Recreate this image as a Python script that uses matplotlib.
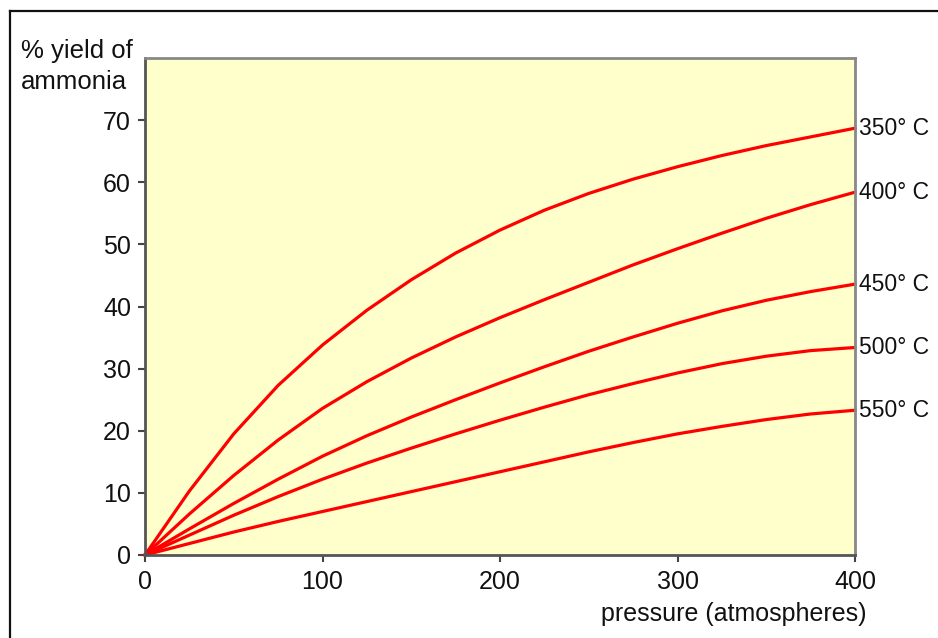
import matplotlib
matplotlib.use("Agg")
import matplotlib.pyplot as plt
from matplotlib.lines import Line2D

plt.rcParams['font.family'] = ['Liberation Sans', 'DejaVu Sans']

# pressure in atmospheres
pressure = [0, 25, 50, 75, 100, 125, 150, 175, 200, 225, 250, 275, 300, 325, 350, 375, 400]

# % yield of ammonia
yield_350 = [0, 10.3, 19.5, 27.3, 33.8, 39.4, 44.3, 48.6, 52.3, 55.5, 58.2, 60.5, 62.5, 64.3, 65.9, 67.3, 68.7]
yield_400 = [0, 6.6, 12.8, 18.5, 23.6, 27.9, 31.7, 35.1, 38.2, 41.1, 43.9, 46.7, 49.3, 51.8, 54.2, 56.4, 58.4]
yield_450 = [0, 4.2, 8.3, 12.2, 15.9, 19.2, 22.2, 25.0, 27.7, 30.3, 32.8, 35.1, 37.3, 39.3, 41.0, 42.4, 43.6]
yield_500 = [0, 3.2, 6.4, 9.4, 12.2, 14.8, 17.2, 19.5, 21.7, 23.8, 25.8, 27.6, 29.3, 30.8, 32.0, 32.9, 33.4]
yield_550 = [0, 1.85, 3.7, 5.4, 7.0, 8.6, 10.2, 11.8, 13.4, 15.0, 16.6, 18.1, 19.5, 20.7, 21.8, 22.7, 23.3]

series = [yield_350, yield_400, yield_450, yield_500, yield_550]
labels = ['350° C', '400° C', '450° C', '500° C', '550° C']

x_ticks = [0, 100, 200, 300, 400]
y_ticks = [0, 10, 20, 30, 40, 50, 60, 70]

fig = plt.figure(figsize=(9.38, 6.38), dpi=100)
ax = fig.add_axes([145 / 938, 1 - 555 / 638, 710 / 938, 497 / 638])
ax.set_facecolor('#ffffcc')

for ys, lab in zip(series, labels):
    ax.plot(pressure, ys, color='#ff0000', lw=2.3, solid_joinstyle='round', clip_on=False)
    ax.annotate(lab, xy=(pressure[-1], ys[-1]), xytext=(3, 0), textcoords='offset points',
                ha='left', va='center', fontsize=16.5, color='#111111', annotation_clip=False)

ax.set_xlim(0, 400)
ax.set_ylim(0, 80)
ax.set_xticks(x_ticks)
ax.set_yticks(y_ticks)
ax.tick_params(labelsize=18, length=5, width=1.5, color='#444444', labelcolor='#111111')
ax.tick_params(axis='x', pad=6)
ax.tick_params(axis='y', pad=5)

for side in ['left', 'bottom']:
    ax.spines[side].set_color('#555555')
    ax.spines[side].set_linewidth(2)
for side in ['top', 'right']:
    ax.spines[side].set_color('#888888')
    ax.spines[side].set_linewidth(2)

fig.text(21 / 938, 1 - 39 / 638, '% yield of\nammonia', ha='left', va='top',
         fontsize=18.5, color='#111111', linespacing=1.35)
fig.text(866 / 938, 1 - 614 / 638, 'pressure (atmospheres)', ha='right', va='center',
         fontsize=18, color='#111111')

# outer frame, only top and left edges show
fig.add_artist(Line2D([10 / 938, 10 / 938], [0, 1 - 11 / 638], color='#111111', lw=1.6))
fig.add_artist(Line2D([10 / 938, 1], [1 - 11 / 638, 1 - 11 / 638], color='#111111', lw=1.6))

fig.savefig('out.png', dpi=100)
